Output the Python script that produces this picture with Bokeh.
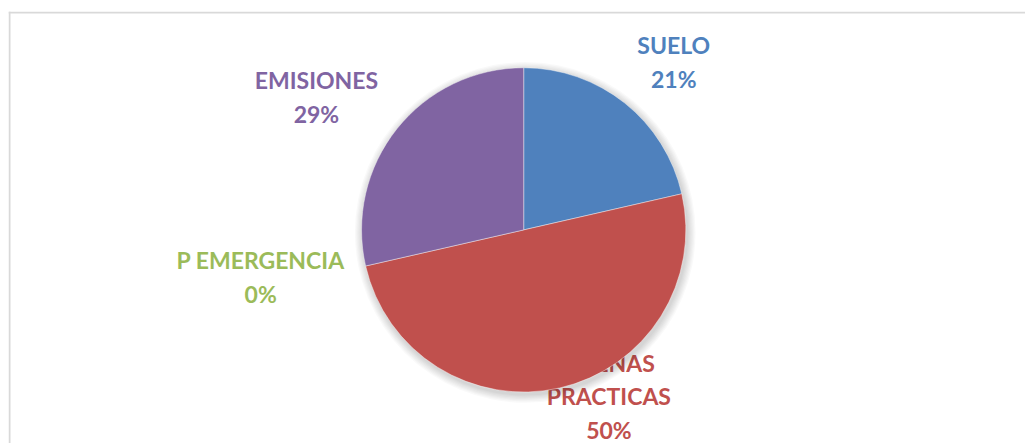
import math
from bokeh.plotting import figure
from bokeh.models import ColumnDataSource, Range1d, Span
from bokeh.core.properties import value
from bokeh.embed import file_html
from bokeh.resources import INLINE

# ---- data ----
categories = ["SUELO", "BUENAS PRACTICAS", "P EMERGENCIA", "EMISIONES"]
label_texts = ["SUELO", "BUENAS\nPRACTICAS", "P EMERGENCIA", "EMISIONES"]
counts = [3, 7, 0, 4]
colors = ["#4F81BD", "#C0504D", "#9BBB59", "#8064A2"]

# ---- layout ----
W, H = 1025, 443
CX, CY, R = 514.7, 213.1, 162.0
label_dist = [225.0, 186.5, 267.0, 246.0]
label_dangle = [-3.2, 14.3, -2.7, 5.9]

total = sum(counts)
starts, ends, mids, pcts = [], [], [], []
acc = 0.0
for c in counts:
    a0 = math.pi / 2 - 2 * math.pi * acc / total
    acc += c
    a1 = math.pi / 2 - 2 * math.pi * acc / total
    starts.append(a1)
    ends.append(a0)
    mids.append((a0 + a1) / 2)
    pcts.append(f"{round(100 * c / total)}%")

lx, ly, ltxt = [], [], []
for i in range(len(categories)):
    ang = mids[i] + math.radians(label_dangle[i])
    lx.append(CX + label_dist[i] * math.cos(ang))
    ly.append(CY + label_dist[i] * math.sin(ang))
    ltxt.append(label_texts[i] + "\n" + pcts[i])

p = figure(width=W, height=H, output_backend="svg", toolbar_location=None,
           x_range=Range1d(0, 1016), y_range=Range1d(0, 431),
           min_border_left=8, min_border_top=11, min_border_right=0, min_border_bottom=0)
p.axis.visible = False
p.grid.visible = False
p.outline_line_color = None
p.background_fill_color = "white"
p.border_fill_color = "white"

# chart-area frame: left and top edges only (the others lie outside the window)
p.add_layout(Span(location=1, dimension="height", line_color="#d9d9d9", line_width=2))
p.add_layout(Span(location=430, dimension="width", line_color="#d9d9d9", line_width=2))

# labels (behind the pie)
lsrc = ColumnDataSource(dict(x=lx, y=ly, text=ltxt, color=colors))
p.text(x="x", y="y", text="text", source=lsrc, text_color="color",
       text_font=value("Lato"), text_font_style="bold", text_font_size="23px",
       text_align="center", text_baseline="middle", text_line_height=1.2)

# soft shadow
for i in range(7):
    p.circle(x=[CX + 1.5], y=[CY - 2.5], radius=R + 1 + i * 1.2,
             fill_color="black", fill_alpha=0.022, line_color=None)

# wedges (zero-size slices are not drawn)
keep = [i for i, c in enumerate(counts) if c > 0]
src = ColumnDataSource(dict(start=[starts[i] for i in keep], end=[ends[i] for i in keep],
                            color=[colors[i] for i in keep], cat=[categories[i] for i in keep]))
p.wedge(x=CX, y=CY, radius=R, start_angle="start", end_angle="end",
        fill_color="color", line_color="white", line_width=0.6, line_alpha=0.7,
        source=src)

open("out.html", "w").write(file_html(p, INLINE))
